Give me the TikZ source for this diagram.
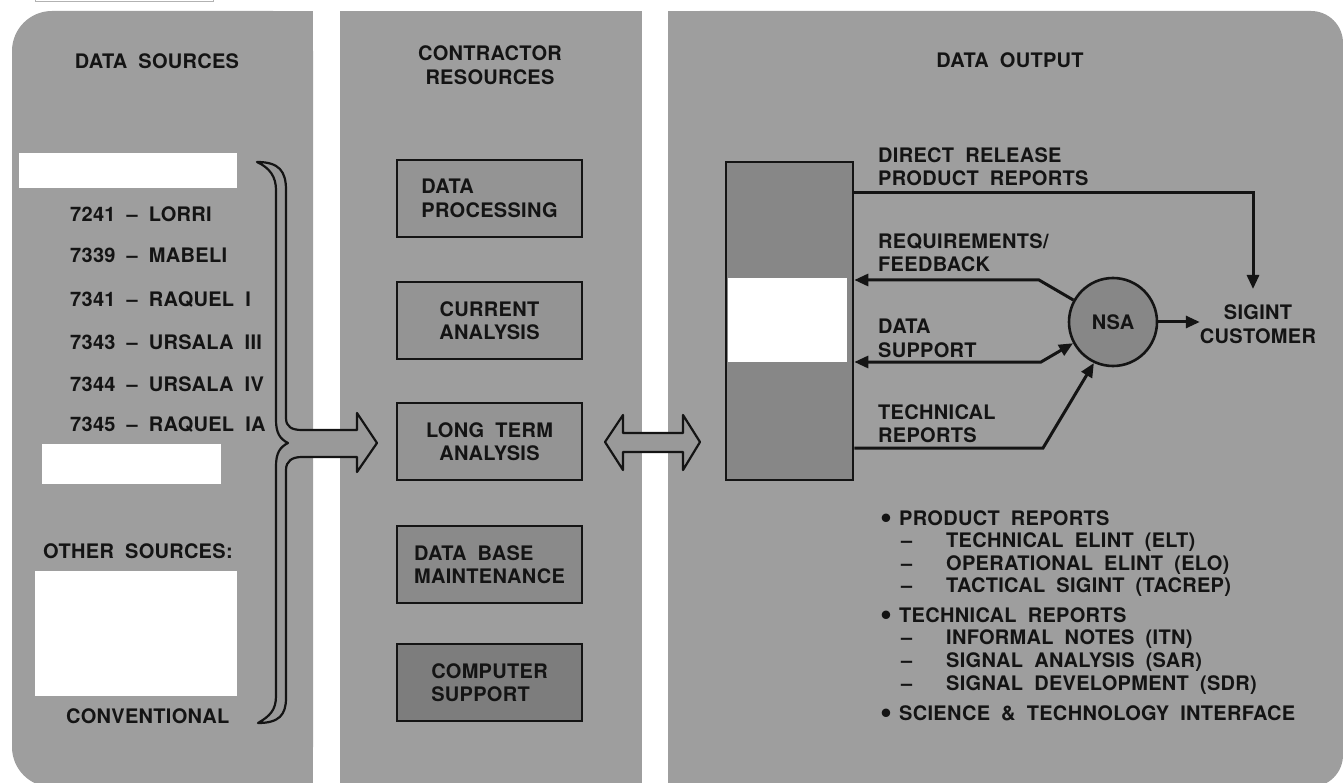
\documentclass[tikz,border=0pt]{standalone}
\usepackage{fontspec}
\setmainfont{TeX Gyre Heros}[WordSpace=1.9, LetterSpace=1.5]
\usetikzlibrary{arrows.meta}
\definecolor{panel}{gray}{0.62}
\definecolor{boxa}{gray}{0.58}
\definecolor{boxb}{gray}{0.54}
\definecolor{boxc}{gray}{0.49}
\definecolor{storef}{gray}{0.53}
\definecolor{ink}{gray}{0.08}
\definecolor{shapef}{gray}{0.60}
\newcommand{\bigbul}{\raisebox{-3.5pt}{\scalebox{1.7}{\textbullet}}}
\tikzset{
  lbl/.style={inner sep=0pt, text=ink, text height=14pt, text depth=0pt},
  mlbl/.style={inner sep=0pt, text=ink},
  resbox/.style={draw=ink, line width=2.6pt, minimum width=185pt, minimum height=77pt, inner sep=0pt, text=ink},
  conn/.style={draw=ink, line width=3pt},
  tri/.tip={Triangle[length=14pt,width=12pt]},
  bigshape/.style={fill=shapef, draw=ink, line width=2.2pt, line join=round},
}
\begin{document}
\begin{tikzpicture}[x=1pt,y=-1pt,font=\fontsize{20}{23.5}\selectfont\bfseries]
\useasboundingbox (0,0) rectangle (1343,783);
% panels
\fill[panel, rounded corners=40pt] (12,11) rectangle (313,787);
\fill[panel] (260,11) rectangle (313,787);
\fill[panel] (340,11) rectangle (642,787);
\fill[panel, rounded corners=32pt] (668,11) rectangle (1343,787);
\fill[panel] (668,11) rectangle (720,787);
% cut frame at top-left
\draw[gray!60, line width=1pt] (35,-10) rectangle (213,2);

% ---------- left column ----------
\node[lbl] (t1) at (157,62) {DATA SOURCES};
\fill[white] (19,153) rectangle (237,188);
\node[lbl, anchor=west] (s1) at (70,215) {7241 -- LORRI};
\node[lbl, anchor=west] (s2) at (70,256) {7339 -- MABELI};
\node[lbl, anchor=west] (s3) at (70,300) {7341 -- RAQUEL I};
\node[lbl, anchor=west] (s4) at (70,342) {7343 -- URSALA III};
\node[lbl, anchor=west] (s5) at (70,384) {7344 -- URSALA IV};
\node[lbl, anchor=west] (s6) at (70,424) {7345 -- RAQUEL IA};
\fill[white] (42,444) rectangle (221,484);
\node[lbl, anchor=west] (os) at (43,551) {OTHER SOURCES:};
\fill[white] (35,571) rectangle (237,696);
\node[lbl, anchor=west] (cv) at (66,716) {CONVENTIONAL};

% brace with arrow
\path[bigshape]
 (257,162) .. controls (279,162) and (286,171) .. (286,190)
 -- (286,418) .. controls (286,427) and (292,430) .. (302,430)
 -- (357,430) -- (357,413) -- (377,443) -- (357,472) -- (357,457)
 -- (302,457) .. controls (292,457) and (286,461) .. (286,470)
 -- (286,698) .. controls (286,715) and (279,723) .. (258,723)
 .. controls (270,716) and (276,710) .. (276,696)
 -- (276,466) .. controls (276,453) and (280,447) .. (288,443)
 .. controls (280,439) and (276,433) .. (276,420)
 -- (276,190) .. controls (276,177) and (270,168) .. (257,162) -- cycle;

% ---------- middle column ----------
\node[mlbl, align=center] (t2) at (490,65) {CONTRACTOR\\RESOURCES};
\node[resbox, fill=boxa, align=left]   (r1) at (489.5,198.5) {DATA\\PROCESSING};
\node[resbox, fill=boxa, align=center] (r2) at (489.5,320.5) {CURRENT\\ANALYSIS};
\node[resbox, fill=boxa, align=center] (r3) at (489.5,441.5) {LONG TERM\\ANALYSIS};
\node[resbox, fill=boxb, align=left]   (r4) at (489.5,564.5) {DATA BASE\\MAINTENANCE};
\node[resbox, fill=boxc, align=left]   (r5) at (489.5,682.5) {COMPUTER\\SUPPORT};

% double arrow
\path[bigshape] (605,442) -- (623,415) -- (623,433) -- (683,433) -- (683,415)
  -- (700,442) -- (683,470) -- (683,452) -- (623,452) -- (623,470) -- cycle;

% ---------- right column ----------
\node[lbl] (t3) at (1010,61) {DATA OUTPUT};
\node[draw=ink, fill=storef, line width=2.6pt, minimum width=127pt, minimum height=318pt, inner sep=0pt] (store) at (789.5,321) {};
\fill[white] (728,278) rectangle (847,362);
\node[circle, draw=ink, fill=storef, line width=2.6pt, minimum size=88pt, inner sep=0pt, text=ink] (nsa) at (1113,322) {NSA};
\node[mlbl, align=center] (cust) at (1258,324) {SIGINT\\CUSTOMER};

\node[mlbl, align=left, anchor=north west] (l1) at (878,147) {DIRECT RELEASE\\PRODUCT REPORTS};
\node[mlbl, align=left, anchor=north west] (l2) at (878,233) {REQUIREMENTS/\\FEEDBACK};
\node[mlbl, align=left, anchor=north west] (l3) at (878,319) {DATA\\SUPPORT};
\node[mlbl, align=left, anchor=north west] (l4) at (878,404) {TECHNICAL\\REPORTS};

\coordinate (dr) at (1253,193);
\coordinate (drtip) at (1253,289);
\coordinate (rq) at (1039,280);
\coordinate (ds) at (1041,362);
\coordinate (tr) at (1043,448);
\draw[conn,-{tri}] (store.east |- dr) -| (drtip);
\draw[conn,-{tri}] (nsa.151) -- (rq) -- (rq -| store.east);
\draw[conn,{tri}-{tri}] (ds -| store.east) -- (ds) -- (nsa.208);
\draw[conn,-{tri}] (tr -| store.east) -- (tr) -- (nsa.245);
\draw[conn,-{tri}] (nsa.east) -- (nsa.east -| cust.west);

% bullet list
\node[lbl, anchor=west] (b1) at (880,518) {\makebox[19pt][l]{\bigbul}PRODUCT REPORTS};
\node[lbl, anchor=west] (b2) at (901,540) {\makebox[45pt][l]{--}TECHNICAL ELINT (ELT)};
\node[lbl, anchor=west] (b3) at (901,563) {\makebox[45pt][l]{--}OPERATIONAL ELINT (ELO)};
\node[lbl, anchor=west] (b4) at (901,585) {\makebox[45pt][l]{--}TACTICAL SIGINT (TACREP)};
\node[lbl, anchor=west] (b5) at (880,615) {\makebox[19pt][l]{\bigbul}TECHNICAL REPORTS};
\node[lbl, anchor=west] (b6) at (901,637) {\makebox[45pt][l]{--}INFORMAL NOTES (ITN)};
\node[lbl, anchor=west] (b7) at (901,660) {\makebox[45pt][l]{--}SIGNAL ANALYSIS (SAR)};
\node[lbl, anchor=west] (b8) at (901,683) {\makebox[45pt][l]{--}SIGNAL DEVELOPMENT (SDR)};
\node[lbl, anchor=west] (b9) at (880,713) {\makebox[19pt][l]{\bigbul}SCIENCE \& TECHNOLOGY INTERFACE};
\end{tikzpicture}
\end{document}
